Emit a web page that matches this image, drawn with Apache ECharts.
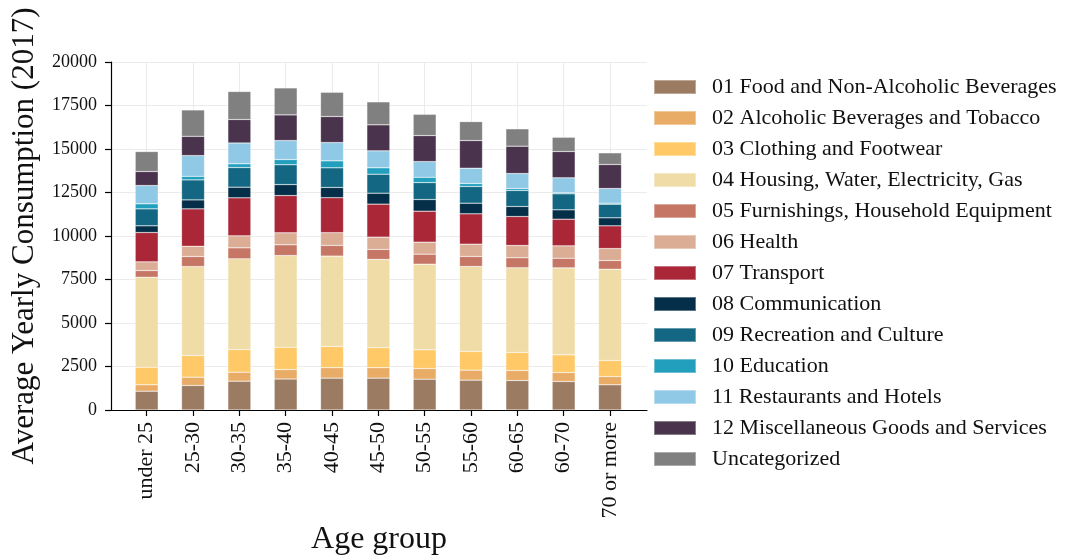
<!DOCTYPE html>
<html>
<head>
<meta charset="utf-8">
<script src="https://cdn.jsdelivr.net/npm/echarts@6/dist/echarts.min.js"></script>
<style>
  html, body { margin: 0; padding: 0; background: #fff; }
  #main { width: 1077px; height: 558px; }
</style>
</head>
<body>
<div id="main"></div>
<script>
// age groups on the x axis
const ageGroups = ['under 25', '25-30', '30-35', '35-40', '40-45', '45-50', '50-55', '55-60', '60-65', '60-70', '70 or more']

// one list per consumption category, bottom to top of each stack
const food = [1080, 1410, 1655, 1780, 1830, 1830, 1770, 1715, 1695, 1640, 1450]
const alcohol = [370, 475, 515, 545, 600, 600, 615, 575, 575, 515, 475]
const clothing = [1010, 1245, 1305, 1280, 1225, 1150, 1075, 1075, 1035, 1015, 920]
const housing = [5170, 5115, 5215, 5270, 5190, 5075, 4920, 4885, 4870, 5000, 5245]
const furnishings = [385, 575, 630, 620, 615, 575, 575, 575, 575, 550, 500]
const health = [500, 590, 690, 690, 730, 705, 690, 705, 705, 715, 690]
const transport = [1685, 2150, 2185, 2140, 2010, 1895, 1780, 1745, 1665, 1530, 1305]
const communication = [385, 515, 610, 630, 590, 630, 670, 610, 575, 540, 460]
const recreation = [975, 1150, 1130, 1140, 1130, 1090, 975, 960, 920, 920, 780]
const education = [290, 205, 215, 300, 400, 370, 305, 170, 115, 60, 60]
const restaurants = [1050, 1190, 1195, 1090, 1050, 975, 900, 880, 860, 860, 845]
const misc = [805, 1110, 1350, 1475, 1495, 1495, 1495, 1590, 1570, 1510, 1380]
const uncategorized = [1150, 1515, 1610, 1550, 1395, 1320, 1225, 1090, 1000, 820, 670]

const yTicks = { min: 0, max: 20000, interval: 2500 }

const categories = [
  { name: '01 Food and Non-Alcoholic Beverages', data: food, color: '#9c7b63' },
  { name: '02 Alcoholic Beverages and Tobacco', data: alcohol, color: '#e9ac66' },
  { name: '03 Clothing and Footwear', data: clothing, color: '#fec966' },
  { name: '04 Housing, Water, Electricity, Gas', data: housing, color: '#f0dca7' },
  { name: '05 Furnishings, Household Equipment', data: furnishings, color: '#c67664' },
  { name: '06 Health', data: health, color: '#dcad95' },
  { name: '07 Transport', data: transport, color: '#a92737' },
  { name: '08 Communication', data: communication, color: '#052e48' },
  { name: '09 Recreation and Culture', data: recreation, color: '#146782' },
  { name: '10 Education', data: education, color: '#229fbd' },
  { name: '11 Restaurants and Hotels', data: restaurants, color: '#8fc9e6' },
  { name: '12 Miscellaneous Goods and Services', data: misc, color: '#4a334d' },
  { name: 'Uncategorized', data: uncategorized, color: '#808080' },
]

const serif = "'Liberation Serif', 'DejaVu Serif', serif"

function echartInit() {
  const chartDom = document.getElementById('main')
  const myChart = echarts.init(chartDom, null, { renderer: 'canvas' })

  const option = {
    animation: false,
    backgroundColor: '#fff',
    textStyle: { fontFamily: serif },
    // grid 0 carries the axis frame, grid 1 the bars
    grid: [
      { left: 111, top: 62, width: 536, height: 348, containLabel: false, outerBoundsMode: 'none' },
      { left: 146.7, top: 62, width: 463.3, height: 348, containLabel: false, outerBoundsMode: 'none' },
    ],
    legend: {
      orient: 'vertical',
      left: 653,
      top: 76,
      padding: 0,
      icon: 'rect',
      itemWidth: 42,
      itemHeight: 14,
      itemGap: 9,
      textStyle: {
        fontFamily: serif,
        fontSize: 22,
        lineHeight: 22,
        color: '#111',
        padding: [0, 0, 0, 11],
      },
      data: categories.map(c => c.name),
    },
    xAxis: [
      {
        gridIndex: 0,
        type: 'value',
        min: 0,
        max: 1,
        axisLine: { show: true, lineStyle: { color: '#000', width: 1.2 } },
        axisTick: { show: false },
        axisLabel: { show: false },
        splitLine: { show: false },
        name: 'Age group',
        nameLocation: 'middle',
        nameGap: 114,
        nameTextStyle: { fontFamily: serif, fontSize: 32, color: '#111' },
      },
      {
        gridIndex: 1,
        type: 'category',
        boundaryGap: false,
        data: ageGroups,
        axisLine: { show: false },
        axisTick: { show: true, length: 6, lineStyle: { color: '#000', width: 1.2 } },
        axisLabel: {
          rotate: 90,
          margin: 12,
          fontFamily: serif,
          fontSize: 22,
          color: '#111',
          interval: 0,
        },
        splitLine: { show: true, lineStyle: { color: '#ebebeb', width: 1 } },
      },
    ],
    yAxis: [
      {
        gridIndex: 0,
        type: 'value',
        min: yTicks.min,
        max: yTicks.max,
        interval: yTicks.interval,
        axisLine: { show: true, lineStyle: { color: '#000', width: 1.2 } },
        axisTick: { show: true, length: 6, lineStyle: { color: '#000', width: 1.2 } },
        axisLabel: {
          margin: 14,
          fontFamily: serif,
          fontSize: 18,
          color: '#111',
          formatter: v => String(v),
        },
        splitLine: { show: true, lineStyle: { color: '#ebebeb', width: 1 } },
        name: 'Average Yearly Consumption (2017)',
        nameLocation: 'middle',
        nameGap: 71,
        nameRotate: 90,
        nameTextStyle: { fontFamily: serif, fontSize: 31, color: '#111' },
      },
      {
        gridIndex: 1,
        type: 'value',
        min: yTicks.min,
        max: yTicks.max,
        show: false,
      },
    ],
    series: categories.map(c => ({
      name: c.name,
      type: 'bar',
      stack: 'total',
      xAxisIndex: 1,
      yAxisIndex: 1,
      barWidth: 23,
      clip: false,
      itemStyle: {
        color: c.color,
        borderColor: 'rgba(255,255,255,0.35)',
        borderWidth: 0.6,
      },
      data: c.data,
    })),
  }

  option && myChart.setOption(option)
}

echartInit()
</script>
</body>
</html>
